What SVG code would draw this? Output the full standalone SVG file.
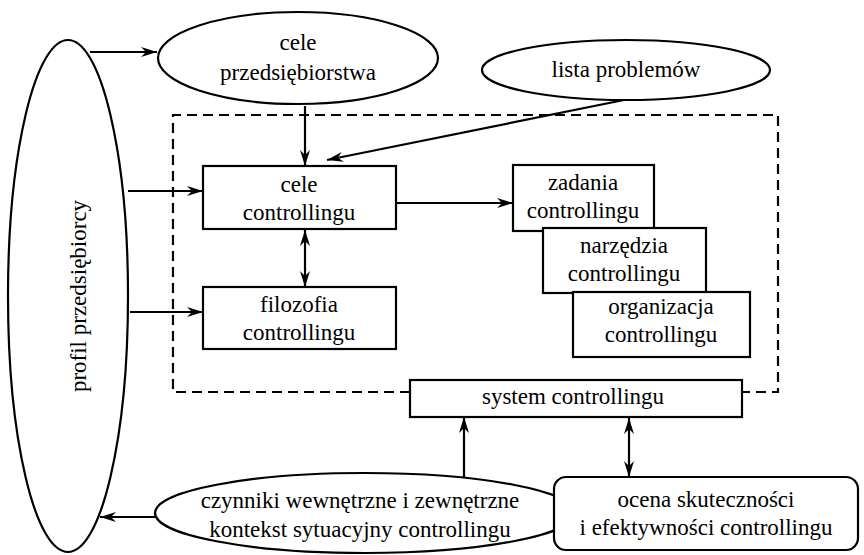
<svg xmlns="http://www.w3.org/2000/svg" width="864" height="555" viewBox="0 0 864 555">
<defs>
<marker id="ar" viewBox="0 0 16 10" refX="16" refY="5" markerWidth="16" markerHeight="10" markerUnits="userSpaceOnUse" orient="auto-start-reverse">
<path d="M0,0 L16,5 L0,10 L5,5 Z" fill="#000"/>
</marker>
</defs>
<style>
.n{fill:#fff;stroke:#000;stroke-width:2.2}
.t{font-family:"Liberation Serif","Times New Roman",serif;font-size:23px;fill:#000;text-anchor:middle}
.c{fill:none;stroke:#000;stroke-width:2.2}
.d{fill:none;stroke:#000;stroke-width:2.2;stroke-dasharray:10 6}
</style>
<g id="frame">
<path class="d" d="M410,392 L173,392 L173,115 L778,115 L778,392 L742,392"/>
</g>
<g id="connectors">
<path class="c" d="M90,52 L157,52" marker-end="url(#ar)"/>
<path class="c" d="M305,106 L305,166" marker-end="url(#ar)"/>
<path class="c" d="M624,100 L327,160" marker-end="url(#ar)"/>
<path class="c" d="M128,191 L203,191" marker-end="url(#ar)"/>
<path class="c" d="M130,312 L203,312" marker-end="url(#ar)"/>
<path class="c" d="M305,230 L305,287" marker-start="url(#ar)" marker-end="url(#ar)"/>
<path class="c" d="M396,203 L513,203" marker-end="url(#ar)"/>
<path class="c" d="M464,477 L464,417" marker-end="url(#ar)"/>
<path class="c" d="M629,418 L629,477" marker-start="url(#ar)" marker-end="url(#ar)"/>
<path class="c" d="M155,517 L100,517" marker-end="url(#ar)"/>
</g>
<g id="profil">
<ellipse class="n" cx="68" cy="296" rx="60" ry="256"/>
<text class="t" transform="translate(86,296) rotate(-90)">profil przedsiębiorcy</text>
</g>
<g id="cele-przedsiebiorstwa">
<ellipse class="n" cx="298" cy="58" rx="140" ry="46"/>
<text class="t" x="298" y="50">cele</text>
<text class="t" x="298" y="80">przedsiębiorstwa</text>
</g>
<g id="lista-problemow">
<ellipse class="n" cx="626" cy="70" rx="144" ry="30"/>
<text class="t" x="626" y="77">lista problemów</text>
</g>
<g id="cele-controllingu">
<rect class="n" x="203" y="166" width="193" height="63"/>
<text class="t" x="299" y="192">cele</text>
<text class="t" x="299" y="220">controllingu</text>
</g>
<g id="filozofia">
<rect class="n" x="203" y="287" width="193" height="62"/>
<text class="t" x="299" y="312">filozofia</text>
<text class="t" x="299" y="340">controllingu</text>
</g>
<g id="zadania">
<rect class="n" x="513" y="165" width="141" height="66"/>
<text class="t" x="583" y="190">zadania</text>
<text class="t" x="583" y="218">controllingu</text>
</g>
<g id="narzedzia">
<rect class="n" x="543" y="228" width="163" height="65"/>
<text class="t" x="624" y="253">narzędzia</text>
<text class="t" x="624" y="281">controllingu</text>
</g>
<g id="organizacja">
<rect class="n" x="573" y="292" width="177" height="65"/>
<text class="t" x="661" y="314">organizacja</text>
<text class="t" x="661" y="342">controllingu</text>
</g>
<g id="system">
<rect class="n" x="410" y="380" width="332" height="37"/>
<text class="t" x="573" y="404">system controllingu</text>
</g>
<g id="czynniki">
<ellipse class="n" cx="365" cy="513" rx="210" ry="40"/>
<text class="t" x="360" y="508">czynniki wewnętrzne i zewnętrzne</text>
<text class="t" x="360" y="537">kontekst sytuacyjny controllingu</text>
</g>
<g id="ocena">
<rect class="n" x="554" y="477" width="304" height="73" rx="12"/>
<text class="t" x="706" y="507">ocena skuteczności</text>
<text class="t" x="706" y="535">i efektywności controllingu</text>
</g>
</svg>
